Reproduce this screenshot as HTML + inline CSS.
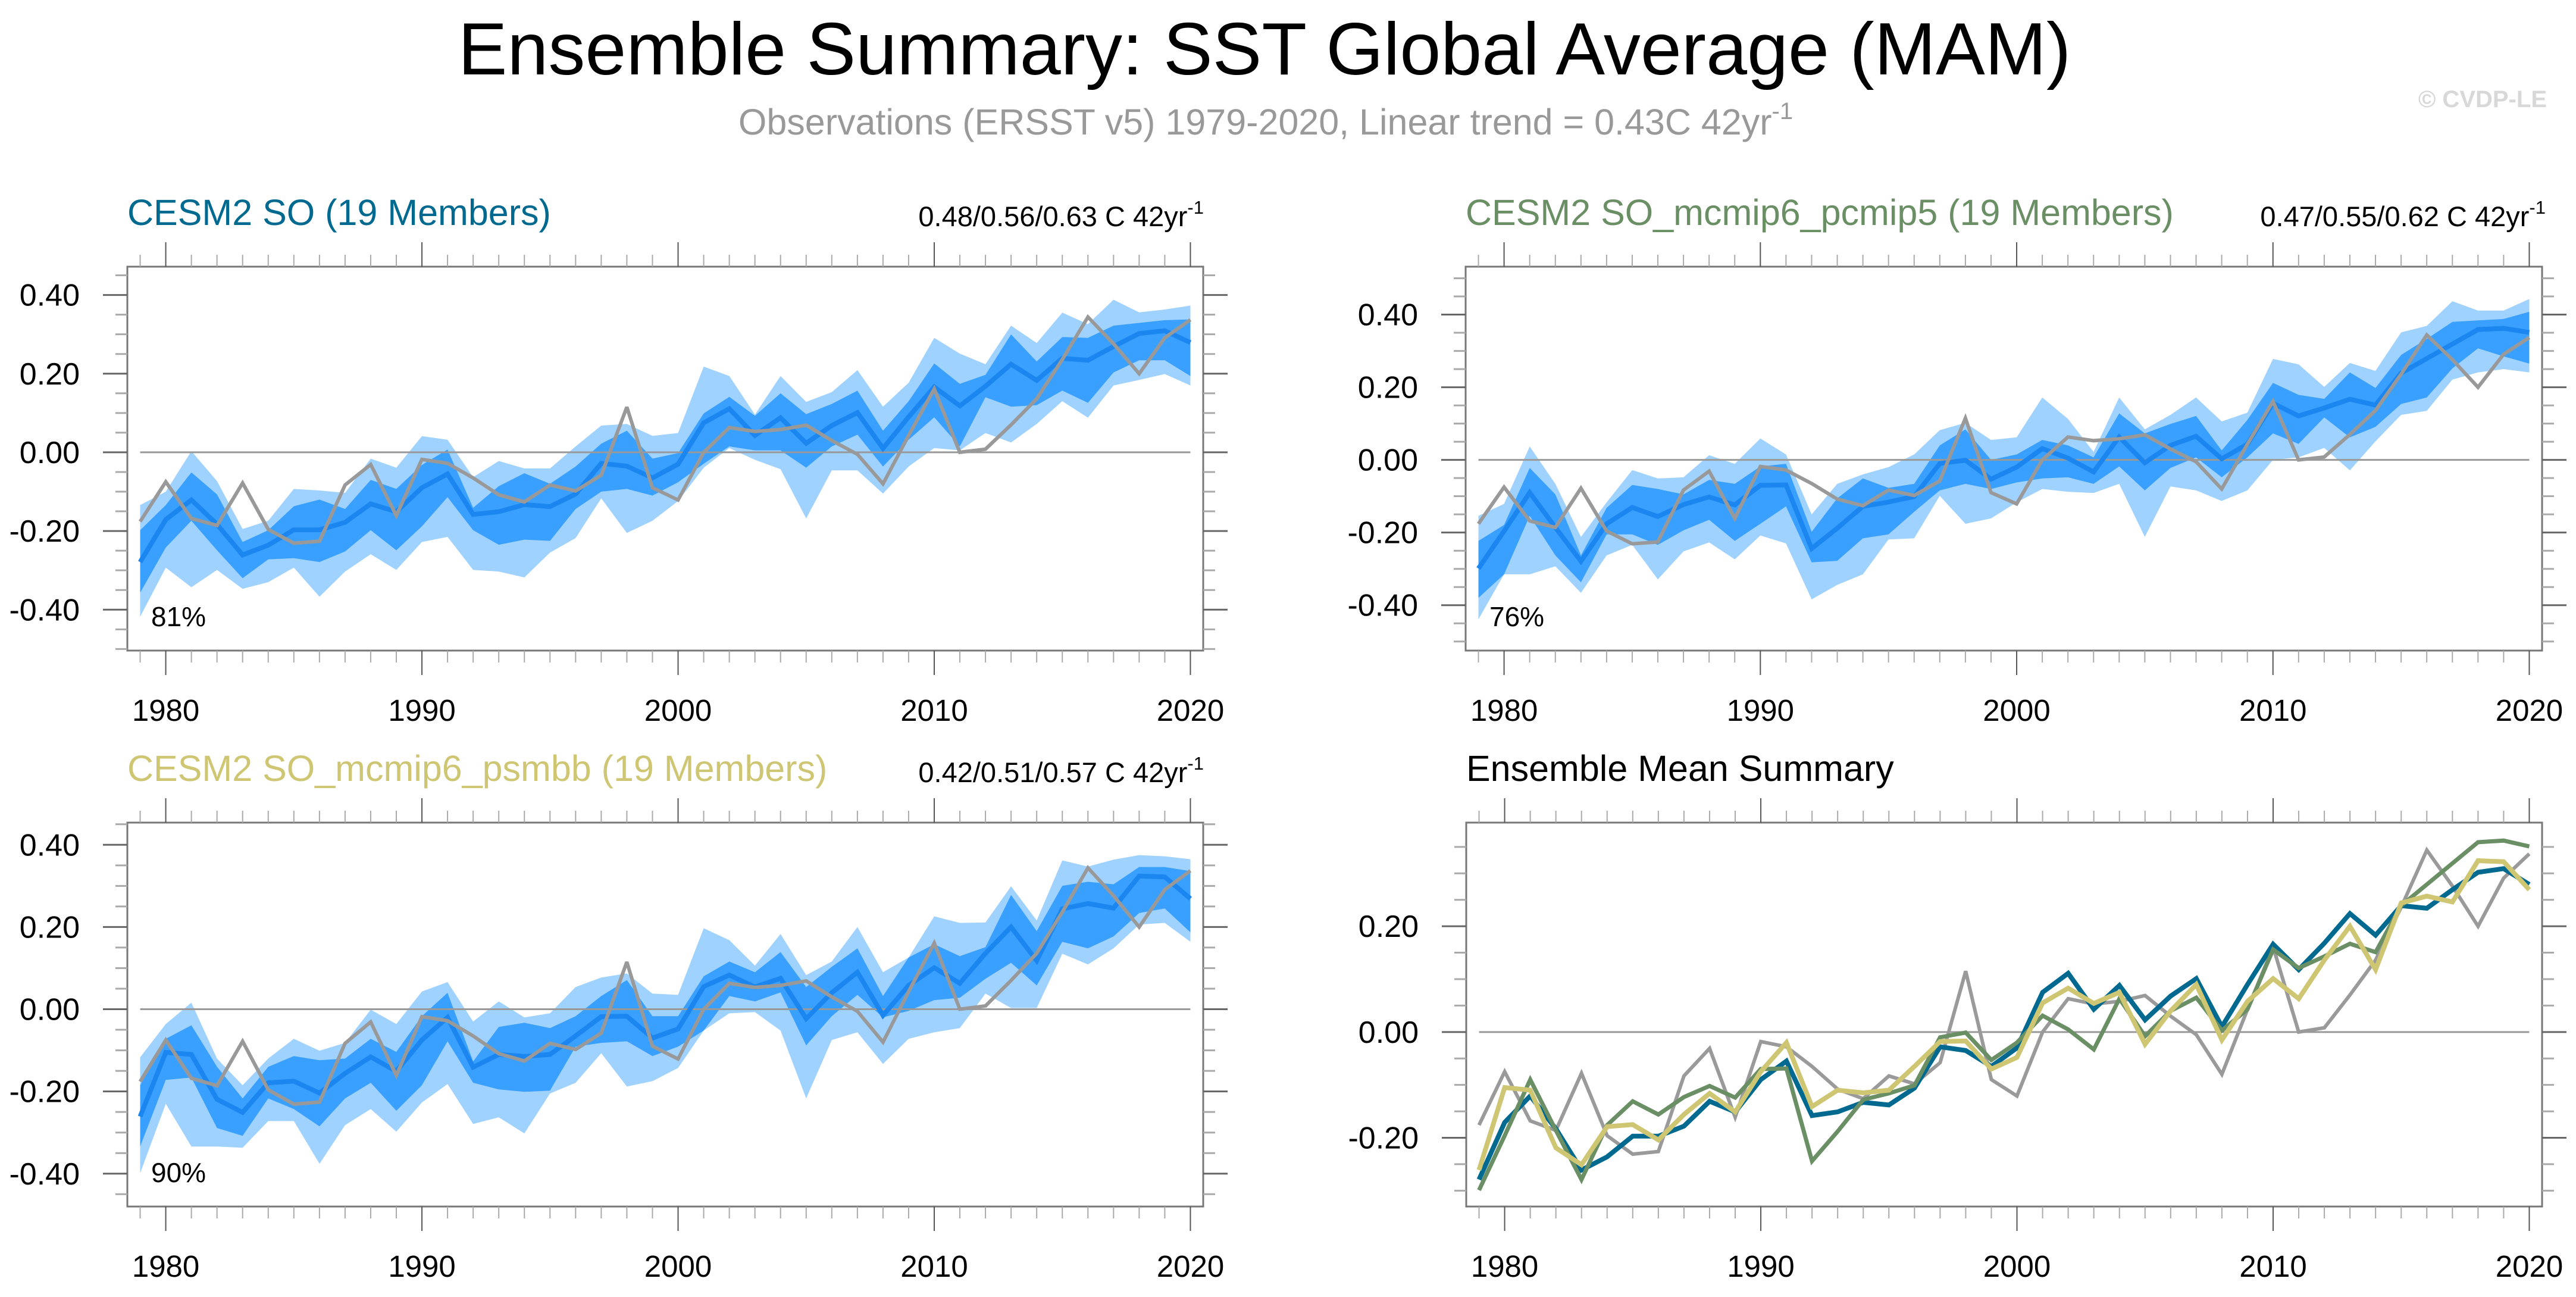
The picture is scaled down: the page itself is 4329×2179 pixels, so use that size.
<!DOCTYPE html>
<html><head><meta charset="utf-8"><title>Ensemble Summary: SST Global Average (MAM)</title>
<style>
html,body{margin:0;padding:0;background:#fff;}
svg{display:block;font-family:"Liberation Sans",sans-serif;}
</style></head>
<body>
<svg id="fig" width="4329" height="2179" viewBox="0 0 4329 2179" xmlns="http://www.w3.org/2000/svg">
<text x="2125" y="125" font-size="124" text-anchor="middle" fill="#000">Ensemble Summary: SST Global Average (MAM)</text>
<text x="2127" y="226" font-size="61" text-anchor="middle" fill="#999">Observations (ERSST v5) 1979-2020, Linear trend = 0.43C 42yr<tspan font-size="40" dy="-26">-1</tspan></text>
<text x="4280" y="180" font-size="40" text-anchor="end" fill="#d8d8d8" font-weight="bold">© CVDP-LE</text>
</svg>
<script>
const years = [];
for (let y = 1979; y <= 2020; y++) years.push(y);

const obs = [-0.176,-0.075,-0.168,-0.186,-0.078,-0.196,-0.231,-0.226,-0.083,-0.031,-0.161,-0.018,-0.028,-0.065,-0.108,-0.126,-0.083,-0.098,-0.058,0.115,-0.090,-0.121,0.000,0.063,0.053,0.058,0.069,0.030,-0.005,-0.080,0.043,0.161,0.000,0.008,0.070,0.136,0.236,0.344,0.276,0.200,0.291,0.337];

const meanSO = [-0.279,-0.171,-0.121,-0.183,-0.261,-0.236,-0.197,-0.197,-0.178,-0.131,-0.151,-0.090,-0.055,-0.158,-0.151,-0.133,-0.138,-0.106,-0.028,-0.035,-0.065,-0.030,0.075,0.111,0.043,0.088,0.023,0.068,0.101,0.010,0.090,0.166,0.118,0.168,0.224,0.183,0.239,0.234,0.269,0.302,0.309,0.279];
const meanP5 = [-0.299,-0.196,-0.090,-0.186,-0.279,-0.176,-0.131,-0.156,-0.123,-0.102,-0.124,-0.070,-0.069,-0.244,-0.188,-0.128,-0.116,-0.101,-0.010,-0.001,-0.053,-0.020,0.031,0.005,-0.033,0.063,-0.008,0.040,0.065,0.003,0.043,0.156,0.121,0.143,0.167,0.151,0.239,0.279,0.319,0.359,0.362,0.351];
const meanBB = [-0.261,-0.105,-0.110,-0.219,-0.251,-0.179,-0.175,-0.204,-0.156,-0.116,-0.151,-0.075,-0.020,-0.141,-0.110,-0.115,-0.110,-0.065,-0.018,-0.017,-0.070,-0.048,0.055,0.083,0.054,0.075,-0.023,0.040,0.090,-0.015,0.058,0.101,0.063,0.136,0.200,0.118,0.244,0.257,0.246,0.324,0.322,0.269];

const p90SO = [-0.198,-0.134,-0.051,-0.107,-0.228,-0.198,-0.137,-0.120,-0.144,-0.070,-0.093,-0.032,0.007,-0.141,-0.086,-0.053,-0.080,-0.036,0.022,0.055,-0.016,-0.002,0.099,0.141,0.093,0.150,0.097,0.123,0.157,0.055,0.130,0.226,0.174,0.197,0.300,0.231,0.293,0.291,0.322,0.329,0.336,0.338];
const p10SO = [-0.357,-0.242,-0.174,-0.249,-0.320,-0.272,-0.269,-0.279,-0.252,-0.198,-0.249,-0.188,-0.114,-0.198,-0.235,-0.222,-0.225,-0.144,-0.100,-0.093,-0.110,-0.076,-0.029,0.015,0.005,0.005,-0.039,0.015,0.045,-0.036,0.032,0.089,0.015,0.140,0.116,0.120,0.157,0.126,0.203,0.234,0.234,0.194];
const maxSO = [-0.134,-0.100,0.003,-0.073,-0.195,-0.174,-0.093,-0.097,-0.103,-0.016,-0.039,0.041,0.032,-0.063,-0.022,-0.041,-0.041,0.015,0.068,0.072,0.042,0.049,0.218,0.194,0.096,0.194,0.128,0.153,0.209,0.116,0.177,0.291,0.251,0.224,0.322,0.278,0.355,0.326,0.388,0.356,0.363,0.373];
const minSO = [-0.418,-0.293,-0.343,-0.299,-0.347,-0.330,-0.293,-0.367,-0.303,-0.259,-0.299,-0.228,-0.215,-0.299,-0.303,-0.318,-0.255,-0.218,-0.117,-0.205,-0.174,-0.124,-0.039,0.011,-0.019,-0.043,-0.168,-0.046,-0.046,-0.105,-0.036,0.011,0.005,0.049,0.025,0.072,0.130,0.088,0.170,0.184,0.199,0.170];

const p90P5 = [-0.223,-0.179,-0.022,-0.095,-0.263,-0.132,-0.069,-0.080,-0.095,-0.055,-0.066,-0.018,-0.011,-0.198,-0.106,-0.051,-0.077,-0.066,0.040,0.084,0.000,0.015,0.055,0.040,0.007,0.128,0.073,0.099,0.121,0.026,0.110,0.212,0.179,0.168,0.241,0.198,0.289,0.333,0.380,0.384,0.388,0.408];
const p10P5 = [-0.380,-0.315,-0.154,-0.263,-0.337,-0.205,-0.205,-0.234,-0.194,-0.165,-0.223,-0.176,-0.128,-0.282,-0.278,-0.216,-0.205,-0.143,-0.084,-0.066,-0.080,-0.062,-0.051,-0.048,-0.066,-0.018,-0.084,-0.022,0.007,-0.048,0.007,0.073,0.044,0.117,0.062,0.091,0.154,0.172,0.252,0.307,0.285,0.265];
const maxP5 = [-0.154,-0.121,0.037,-0.066,-0.212,-0.117,-0.028,-0.051,-0.048,0.013,-0.011,0.059,0.015,-0.150,-0.066,-0.040,-0.020,0.015,0.082,0.102,0.055,0.062,0.172,0.113,0.022,0.172,0.084,0.124,0.172,0.106,0.130,0.278,0.263,0.201,0.267,0.245,0.351,0.369,0.437,0.411,0.411,0.443];
const minP5 = [-0.439,-0.315,-0.315,-0.293,-0.366,-0.263,-0.234,-0.329,-0.252,-0.227,-0.274,-0.208,-0.230,-0.384,-0.344,-0.315,-0.219,-0.216,-0.099,-0.176,-0.161,-0.117,-0.080,-0.088,-0.091,-0.066,-0.212,-0.073,-0.084,-0.113,-0.084,0.000,0.007,0.033,-0.029,0.051,0.124,0.135,0.221,0.241,0.250,0.241];

const p90BB = [-0.185,-0.072,-0.039,-0.140,-0.217,-0.140,-0.114,-0.124,-0.120,-0.072,-0.104,-0.017,0.040,-0.127,-0.043,-0.033,-0.046,-0.017,0.032,0.071,-0.017,-0.017,0.080,0.116,0.090,0.139,0.054,0.103,0.148,0.032,0.126,0.158,0.129,0.151,0.278,0.190,0.300,0.310,0.304,0.346,0.346,0.336];
const p10BB = [-0.334,-0.172,-0.166,-0.289,-0.308,-0.217,-0.243,-0.285,-0.217,-0.179,-0.247,-0.185,-0.078,-0.179,-0.195,-0.201,-0.198,-0.091,-0.082,-0.078,-0.114,-0.091,-0.052,0.032,0.019,0.041,-0.088,-0.017,0.035,-0.020,-0.004,0.022,0.028,0.074,0.113,0.058,0.164,0.148,0.177,0.234,0.245,0.187];
const maxBB = [-0.117,-0.036,0.016,-0.120,-0.185,-0.120,-0.072,-0.101,-0.082,-0.001,-0.036,0.043,0.066,-0.030,0.019,-0.020,-0.010,0.054,0.077,0.087,0.038,0.035,0.197,0.168,0.106,0.183,0.083,0.116,0.200,0.090,0.126,0.226,0.210,0.211,0.299,0.216,0.362,0.347,0.364,0.375,0.372,0.365];
const minBB = [-0.399,-0.230,-0.334,-0.334,-0.337,-0.272,-0.272,-0.376,-0.282,-0.243,-0.298,-0.227,-0.182,-0.279,-0.263,-0.302,-0.205,-0.179,-0.107,-0.188,-0.175,-0.143,-0.052,-0.010,-0.007,-0.052,-0.217,-0.075,-0.056,-0.133,-0.072,-0.056,-0.046,0.038,0.003,0.003,0.135,0.109,0.148,0.206,0.210,0.164];

const yTicksMain = [-0.40,-0.20,0.00,0.20,0.40];
const yTickLabelsMain = ["-0.40","-0.20","0.00","0.20","0.40"];
const yTicksSummary = [-0.20,0.00,0.20];
const yTickLabelsSummary = ["-0.20","0.00","0.20"];
const xTicks = [1980,1990,2000,2010,2020];
const xTickLabels = ["1980","1990","2000","2010","2020"];

const NS = "http://www.w3.org/2000/svg";
const svg = document.getElementById("fig");
function mk(tag, attrs, parent) {
  const e = document.createElementNS(NS, tag);
  for (const k in attrs) e.setAttribute(k, attrs[k]);
  (parent || svg).appendChild(e);
  return e;
}

const panels = [
  {key:"so", x0:214, x1:2022, y0:448, y1:1093, ymin:-0.504, ymax:0.472, title:"CESM2 SO (19 Members)", color:"#00698f", trend:"0.48/0.56/0.63 C 42yr", pct:"81%", mean:meanSO, p10:p10SO, p90:p90SO, mn:minSO, mx:maxSO, ticks:yTicksMain, tlabels:yTickLabelsMain},
  {key:"pcmip5", x0:2463, x1:4272, y0:448, y1:1093, ymin:-0.525, ymax:0.532, title:"CESM2 SO_mcmip6_pcmip5 (19 Members)", color:"#6b8f65", trend:"0.47/0.55/0.62 C 42yr", pct:"76%", mean:meanP5, p10:p10P5, p90:p90P5, mn:minP5, mx:maxP5, ticks:yTicksMain, tlabels:yTickLabelsMain},
  {key:"psmbb", x0:214, x1:2022, y0:1382, y1:2027, ymin:-0.480, ymax:0.454, title:"CESM2 SO_mcmip6_psmbb (19 Members)", color:"#cfc674", trend:"0.42/0.51/0.57 C 42yr", pct:"90%", mean:meanBB, p10:p10BB, p90:p90BB, mn:minBB, mx:maxBB, ticks:yTicksMain, tlabels:yTickLabelsMain},
  {key:"summary", x0:2464, x1:4272, y0:1382, y1:2027, ymin:-0.330, ymax:0.396, title:"Ensemble Mean Summary", color:"#000", summary:true, ticks:yTicksSummary, tlabels:yTickLabelsSummary}
];

panels.forEach(function(p, pi) {
  const g = mk("g", {});
  
  
  const xs = function(yr) { return p.x0 + (yr - 1978.5) / 42 * (p.x1 - p.x0); };
  const ys = function(v) { return p.y0 + (p.ymax - v) / (p.ymax - p.ymin) * (p.y1 - p.y0); };

  const clipId = "clip" + pi;
  const cp = mk("clipPath", {id: clipId}, g);
  mk("rect", {x:p.x0, y:p.y0, width:p.x1-p.x0, height:p.y1-p.y0}, cp);
  const plot = mk("g", {"clip-path":"url(#" + clipId + ")"}, g);
  
  

  function band(lo, hi, fill, name) {
    let pts = [];
    for (let i = 0; i < years.length; i++) pts.push(xs(years[i]).toFixed(1) + "," + ys(hi[i]).toFixed(1));
    for (let i = years.length - 1; i >= 0; i--) pts.push(xs(years[i]).toFixed(1) + "," + ys(lo[i]).toFixed(1));
    const e = mk("polygon", {points: pts.join(" "), fill: fill}, plot);
    
    
  }
  function line(vals, stroke, w, name) {
    const pts = years.map(function(yr, i) { return xs(yr).toFixed(1) + "," + ys(vals[i]).toFixed(1); });
    const e = mk("polyline", {points: pts.join(" "), fill:"none", stroke: stroke, "stroke-width": w, "stroke-linejoin":"miter", "stroke-miterlimit":"3"}, plot);
    
    
  }

  if (!p.summary) {
    band(p.mn, p.mx, "#a0d2ff", "min-max-band");
    band(p.p10, p.p90, "#39a0ff", "p10-p90-band");
  }
  const zl = mk("line", {x1:xs(1979), x2:xs(2020), y1:ys(0), y2:ys(0), stroke:"#999", "stroke-width":3}, plot);
  
  
  if (!p.summary) {
    line(p.mean, "#1b86f0", 8, "ensemble-mean-line");
    line(obs, "#999999", 6, "observations-line");
  } else {
    line(obs, "#9a9a9a", 6, "observations-line");
    line(meanSO, "#00698f", 8, "mean-line-cesm2-so");
    line(meanP5, "#6b8f65", 7, "mean-line-pcmip5");
    line(meanBB, "#cfc674", 8, "mean-line-psmbb");
  }

  const box = mk("rect", {x:p.x0, y:p.y0, width:p.x1-p.x0, height:p.y1-p.y0, fill:"none", stroke:"#777", "stroke-width":3}, g);
  
  

  for (let yr = 1979; yr <= 2020; yr++) {
    const major = yr % 10 === 0;
    const len = major ? 41 : 20;
    const col = major ? "#555" : "#aaa";
    const x = xs(yr);
    mk("line", {x1:x, x2:x, y1:p.y0, y2:p.y0 - len, stroke:col, "stroke-width":2}, g);
    mk("line", {x1:x, x2:x, y1:p.y1, y2:p.y1 + len, stroke:col, "stroke-width":2}, g);
  }
  xTicks.forEach(function(yr, i) {
    const t = mk("text", {x:xs(yr), y:p.y1 + 118, "font-size":51, "text-anchor":"middle", fill:"#000"}, g);
    t.textContent = xTickLabels[i];
    
    
  });

  const vStart = Math.ceil(p.ymin / 0.05 - 1e-6), vEnd = Math.floor(p.ymax / 0.05 + 1e-6);
  for (let k = vStart; k <= vEnd; k++) {
    const v = k * 0.05;
    const major = k % 4 === 0;
    const len = major ? 41 : 20;
    const col = major ? "#666" : "#aaa";
    const y = ys(v);
    mk("line", {x1:p.x0, x2:p.x0 - len, y1:y, y2:y, stroke:col, "stroke-width":3}, g);
    mk("line", {x1:p.x1, x2:p.x1 + len, y1:y, y2:y, stroke:col, "stroke-width":3}, g);
  }
  p.ticks.forEach(function(v, i) {
    const t = mk("text", {x:p.x0 - 80, y:ys(v) + 18, "font-size":52, "text-anchor":"end", fill:"#000"}, g);
    t.textContent = p.tlabels[i];
    
    
  });

  const tt = mk("text", {x:p.x0, y:p.y0 - 70, "font-size":61, fill:p.color}, g);
  tt.textContent = p.title;
  
  
  if (p.trend) {
    const tr = mk("text", {x:p.x1 + (pi === 1 ? 6 : 1), y:p.y0 - 68, "font-size":47, "text-anchor":"end", fill:"#000"}, g);
    tr.textContent = p.trend;
    const sup = mk("tspan", {"font-size":31, dy:-21}, tr);
    sup.textContent = "-1";
    
    
    const pc = mk("text", {x:p.x0 + 40, y:p.y1 - 41, "font-size":46, fill:"#000"}, g);
    pc.textContent = p.pct;
    
    
  }
});
</script>
</body></html>
